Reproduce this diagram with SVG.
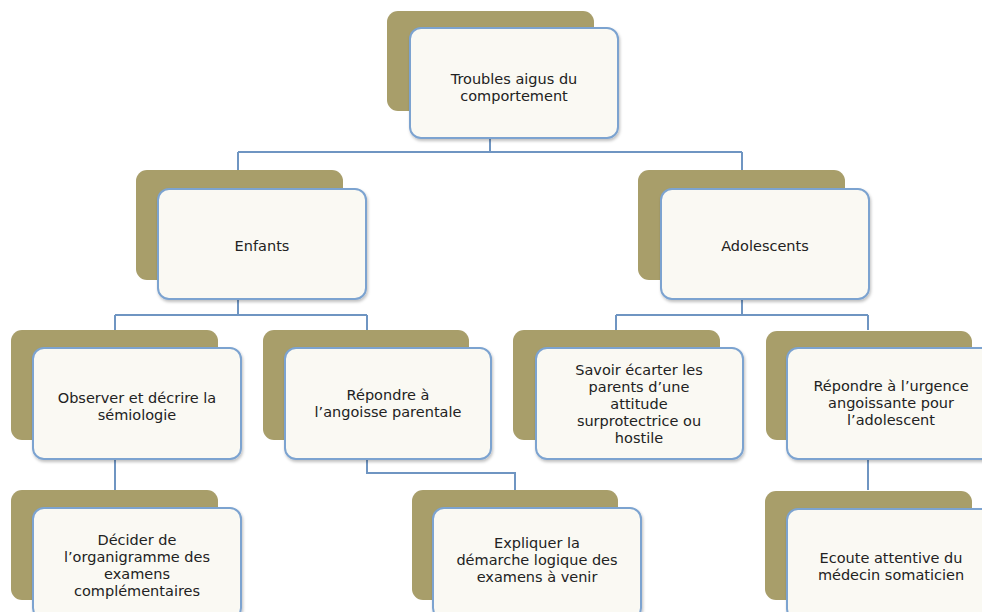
<svg xmlns="http://www.w3.org/2000/svg" width="982" height="612" viewBox="0 0 982 612">
<style>
.back{fill:#a89e6a;}
.front{fill:#faf9f3;stroke:#7ca3d0;stroke-width:2;}
.conn{fill:none;stroke:#6f95c2;stroke-width:2;}
text{font-family:"DejaVu Sans","Noto Sans",sans-serif;font-size:14.5px;fill:#222;text-anchor:middle;}
</style>
<defs>
<filter id="sh" x="-10%" y="-10%" width="130%" height="130%">
<feDropShadow dx="1" dy="2" stdDeviation="1.5" flood-color="#000" flood-opacity="0.25"/>
</filter>
</defs>
<rect width="982" height="612" fill="#ffffff"/>
<g id="connectors">
<path class="conn" d="M490 138V152M238 152H742M238 152V170M742 152V170"/>
<path class="conn" d="M238 299V315M115 315H367M115 315V330M367 315V330"/>
<path class="conn" d="M742 299V315M616 315H868M616 315V330M868 315V330"/>
<path class="conn" d="M115 459V490"/>
<path class="conn" d="M367 459V473H515V490"/>
<path class="conn" d="M868 459V490"/>
</g>
<g id="n-troubles">
<rect class="back" x="387" y="11" width="207" height="100" rx="11"/>
<rect class="front" x="410" y="28" width="208" height="110" rx="11" filter="url(#sh)"/>
<text x="514" y="84">Troubles aigus du</text>
<text x="514" y="101">comportement</text>
</g>
<g id="n-enfants">
<rect class="back" x="136" y="170" width="207" height="110" rx="11"/>
<rect class="front" x="158" y="189" width="208" height="110" rx="11" filter="url(#sh)"/>
<text x="262" y="251">Enfants</text>
</g>
<g id="n-adolescents">
<rect class="back" x="638" y="170" width="207" height="110" rx="11"/>
<rect class="front" x="661" y="189" width="208" height="110" rx="11" filter="url(#sh)"/>
<text x="765" y="251">Adolescents</text>
</g>
<g id="n-observer">
<rect class="back" x="11" y="330" width="207" height="110" rx="11"/>
<rect class="front" x="33" y="348" width="208" height="111" rx="11" filter="url(#sh)"/>
<text x="137" y="403">Observer et décrire la</text>
<text x="137" y="420">sémiologie</text>
</g>
<g id="n-angoisse">
<rect class="back" x="263" y="330" width="206" height="110" rx="11"/>
<rect class="front" x="285" y="348" width="206" height="111" rx="11" filter="url(#sh)"/>
<text x="388" y="400">Répondre à</text>
<text x="388" y="417">l’angoisse parentale</text>
</g>
<g id="n-savoir">
<rect class="back" x="513" y="330" width="207" height="110" rx="11"/>
<rect class="front" x="536" y="348" width="207" height="111" rx="11" filter="url(#sh)"/>
<text x="639" y="375">Savoir écarter les</text>
<text x="639" y="392">parents d’une</text>
<text x="639" y="409">attitude</text>
<text x="639" y="426">surprotectrice ou</text>
<text x="639" y="443">hostile</text>
</g>
<g id="n-urgence">
<rect class="back" x="766" y="331" width="206" height="109" rx="11"/>
<rect class="front" x="787" y="348" width="208" height="111" rx="11" filter="url(#sh)"/>
<text x="891" y="391">Répondre à l’urgence</text>
<text x="891" y="408">angoissante pour</text>
<text x="891" y="425">l’adolescent</text>
</g>
<g id="n-decider">
<rect class="back" x="11" y="490" width="207" height="110" rx="11"/>
<rect class="front" x="33" y="508" width="208" height="111" rx="11" filter="url(#sh)"/>
<text x="137" y="545">Décider de</text>
<text x="137" y="562">l’organigramme  des</text>
<text x="137" y="579">examens</text>
<text x="137" y="596">complémentaires</text>
</g>
<g id="n-expliquer">
<rect class="back" x="412" y="490" width="206" height="110" rx="11"/>
<rect class="front" x="433" y="508" width="208" height="111" rx="11" filter="url(#sh)"/>
<text x="537" y="548">Expliquer la</text>
<text x="537" y="565">démarche logique des</text>
<text x="537" y="582">examens à venir</text>
</g>
<g id="n-ecoute">
<rect class="back" x="765" y="491" width="207" height="109" rx="11"/>
<rect class="front" x="787" y="509" width="208" height="111" rx="11" filter="url(#sh)"/>
<text x="891" y="563">Ecoute attentive du</text>
<text x="891" y="580">médecin somaticien</text>
</g>
</svg>
